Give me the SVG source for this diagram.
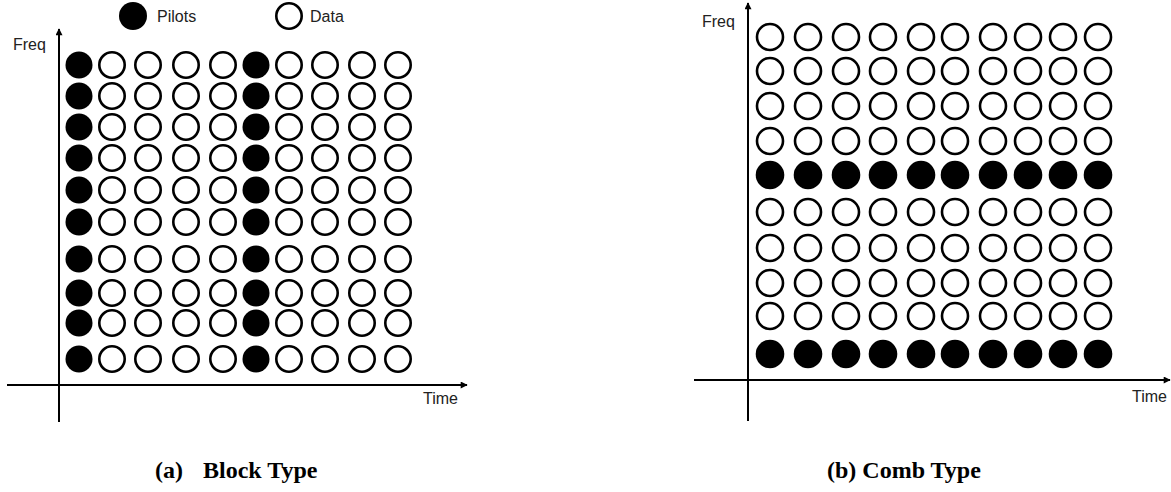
<svg xmlns="http://www.w3.org/2000/svg" width="1171" height="492" viewBox="0 0 1171 492">
<style>
.p{fill:#000}
.d{fill:#fff;stroke:#000;stroke-width:2.6}
.ax{stroke:#000;stroke-width:2;fill:none}
.lbl{font-family:"Liberation Sans",Arial,sans-serif;font-size:16px;fill:#222}
.cap{font-family:"Liberation Serif","Times New Roman",serif;font-size:24px;font-weight:bold;fill:#000}
</style>
<defs>
<marker id="arr" viewBox="0 0 10 10" refX="9" refY="5" markerWidth="9" markerHeight="7" markerUnits="userSpaceOnUse" orient="auto">
<path d="M0,0 L10,5 L0,10 Z" fill="#000"/>
</marker>
</defs>
<rect width="1171" height="492" fill="#fff"/>
<g id="legend">
<g id="legend-pilot"><circle cx="133" cy="16" r="14" class="p"/><text x="157" y="22" class="lbl">Pilots</text></g>
<g id="legend-data"><circle cx="289" cy="16" r="12.7" class="d"/><text x="310" y="22" class="lbl">Data</text></g>
</g>
<g id="connectors">
<line x1="59" y1="422" x2="59" y2="29" class="ax" marker-end="url(#arr)"/>
<line x1="7" y1="385" x2="467" y2="385" class="ax" marker-end="url(#arr)"/>
<line x1="748" y1="421" x2="748" y2="3" class="ax" marker-end="url(#arr)"/>
<line x1="694" y1="380" x2="1170" y2="380" class="ax" marker-end="url(#arr)"/>
</g>
<g id="axis-labels">
<text x="13" y="50" class="lbl">Freq</text>
<text x="423" y="404" class="lbl">Time</text>
<text x="702" y="27" class="lbl">Freq</text>
<text x="1132" y="402" class="lbl">Time</text>
</g>
<g id="block-grid">
<g id="block-row1"><circle cx="79" cy="65" r="13.5" class="p"/><circle cx="112" cy="65" r="12.7" class="d"/><circle cx="148" cy="65" r="12.7" class="d"/><circle cx="186" cy="65" r="12.7" class="d"/><circle cx="223" cy="65" r="12.7" class="d"/><circle cx="256" cy="65" r="13.5" class="p"/><circle cx="289" cy="65" r="12.7" class="d"/><circle cx="325" cy="65" r="12.7" class="d"/><circle cx="362" cy="65" r="12.7" class="d"/><circle cx="398" cy="65" r="12.7" class="d"/></g>
<g id="block-row2"><circle cx="79" cy="96" r="13.5" class="p"/><circle cx="112" cy="96" r="12.7" class="d"/><circle cx="148" cy="96" r="12.7" class="d"/><circle cx="186" cy="96" r="12.7" class="d"/><circle cx="223" cy="96" r="12.7" class="d"/><circle cx="256" cy="96" r="13.5" class="p"/><circle cx="289" cy="96" r="12.7" class="d"/><circle cx="325" cy="96" r="12.7" class="d"/><circle cx="362" cy="96" r="12.7" class="d"/><circle cx="398" cy="96" r="12.7" class="d"/></g>
<g id="block-row3"><circle cx="79" cy="127" r="13.5" class="p"/><circle cx="112" cy="127" r="12.7" class="d"/><circle cx="148" cy="127" r="12.7" class="d"/><circle cx="186" cy="127" r="12.7" class="d"/><circle cx="223" cy="127" r="12.7" class="d"/><circle cx="256" cy="127" r="13.5" class="p"/><circle cx="289" cy="127" r="12.7" class="d"/><circle cx="325" cy="127" r="12.7" class="d"/><circle cx="362" cy="127" r="12.7" class="d"/><circle cx="398" cy="127" r="12.7" class="d"/></g>
<g id="block-row4"><circle cx="79" cy="158" r="13.5" class="p"/><circle cx="112" cy="158" r="12.7" class="d"/><circle cx="148" cy="158" r="12.7" class="d"/><circle cx="186" cy="158" r="12.7" class="d"/><circle cx="223" cy="158" r="12.7" class="d"/><circle cx="256" cy="158" r="13.5" class="p"/><circle cx="289" cy="158" r="12.7" class="d"/><circle cx="325" cy="158" r="12.7" class="d"/><circle cx="362" cy="158" r="12.7" class="d"/><circle cx="398" cy="158" r="12.7" class="d"/></g>
<g id="block-row5"><circle cx="79" cy="190" r="13.5" class="p"/><circle cx="112" cy="190" r="12.7" class="d"/><circle cx="148" cy="190" r="12.7" class="d"/><circle cx="186" cy="190" r="12.7" class="d"/><circle cx="223" cy="190" r="12.7" class="d"/><circle cx="256" cy="190" r="13.5" class="p"/><circle cx="289" cy="190" r="12.7" class="d"/><circle cx="325" cy="190" r="12.7" class="d"/><circle cx="362" cy="190" r="12.7" class="d"/><circle cx="398" cy="190" r="12.7" class="d"/></g>
<g id="block-row6"><circle cx="79" cy="222" r="13.5" class="p"/><circle cx="112" cy="222" r="12.7" class="d"/><circle cx="148" cy="222" r="12.7" class="d"/><circle cx="186" cy="222" r="12.7" class="d"/><circle cx="223" cy="222" r="12.7" class="d"/><circle cx="256" cy="222" r="13.5" class="p"/><circle cx="289" cy="222" r="12.7" class="d"/><circle cx="325" cy="222" r="12.7" class="d"/><circle cx="362" cy="222" r="12.7" class="d"/><circle cx="398" cy="222" r="12.7" class="d"/></g>
<g id="block-row7"><circle cx="79" cy="259" r="13.5" class="p"/><circle cx="112" cy="259" r="12.7" class="d"/><circle cx="148" cy="259" r="12.7" class="d"/><circle cx="186" cy="259" r="12.7" class="d"/><circle cx="223" cy="259" r="12.7" class="d"/><circle cx="256" cy="259" r="13.5" class="p"/><circle cx="289" cy="259" r="12.7" class="d"/><circle cx="325" cy="259" r="12.7" class="d"/><circle cx="362" cy="259" r="12.7" class="d"/><circle cx="398" cy="259" r="12.7" class="d"/></g>
<g id="block-row8"><circle cx="79" cy="293" r="13.5" class="p"/><circle cx="112" cy="293" r="12.7" class="d"/><circle cx="148" cy="293" r="12.7" class="d"/><circle cx="186" cy="293" r="12.7" class="d"/><circle cx="223" cy="293" r="12.7" class="d"/><circle cx="256" cy="293" r="13.5" class="p"/><circle cx="289" cy="293" r="12.7" class="d"/><circle cx="325" cy="293" r="12.7" class="d"/><circle cx="362" cy="293" r="12.7" class="d"/><circle cx="398" cy="293" r="12.7" class="d"/></g>
<g id="block-row9"><circle cx="79" cy="323" r="13.5" class="p"/><circle cx="112" cy="323" r="12.7" class="d"/><circle cx="148" cy="323" r="12.7" class="d"/><circle cx="186" cy="323" r="12.7" class="d"/><circle cx="223" cy="323" r="12.7" class="d"/><circle cx="256" cy="323" r="13.5" class="p"/><circle cx="289" cy="323" r="12.7" class="d"/><circle cx="325" cy="323" r="12.7" class="d"/><circle cx="362" cy="323" r="12.7" class="d"/><circle cx="398" cy="323" r="12.7" class="d"/></g>
<g id="block-row10"><circle cx="79" cy="359" r="13.5" class="p"/><circle cx="112" cy="359" r="12.7" class="d"/><circle cx="148" cy="359" r="12.7" class="d"/><circle cx="186" cy="359" r="12.7" class="d"/><circle cx="223" cy="359" r="12.7" class="d"/><circle cx="256" cy="359" r="13.5" class="p"/><circle cx="289" cy="359" r="12.7" class="d"/><circle cx="325" cy="359" r="12.7" class="d"/><circle cx="362" cy="359" r="12.7" class="d"/><circle cx="398" cy="359" r="12.7" class="d"/></g>
</g>
<g id="comb-grid">
<g id="comb-row1"><circle cx="770" cy="37" r="13" class="d"/><circle cx="808" cy="37" r="13" class="d"/><circle cx="846" cy="37" r="13" class="d"/><circle cx="883" cy="37" r="13" class="d"/><circle cx="921" cy="37" r="13" class="d"/><circle cx="955" cy="37" r="13" class="d"/><circle cx="993" cy="37" r="13" class="d"/><circle cx="1028" cy="37" r="13" class="d"/><circle cx="1063" cy="37" r="13" class="d"/><circle cx="1098" cy="37" r="13" class="d"/></g>
<g id="comb-row2"><circle cx="770" cy="71" r="13" class="d"/><circle cx="808" cy="71" r="13" class="d"/><circle cx="846" cy="71" r="13" class="d"/><circle cx="883" cy="71" r="13" class="d"/><circle cx="921" cy="71" r="13" class="d"/><circle cx="955" cy="71" r="13" class="d"/><circle cx="993" cy="71" r="13" class="d"/><circle cx="1028" cy="71" r="13" class="d"/><circle cx="1063" cy="71" r="13" class="d"/><circle cx="1098" cy="71" r="13" class="d"/></g>
<g id="comb-row3"><circle cx="770" cy="106" r="13" class="d"/><circle cx="808" cy="106" r="13" class="d"/><circle cx="846" cy="106" r="13" class="d"/><circle cx="883" cy="106" r="13" class="d"/><circle cx="921" cy="106" r="13" class="d"/><circle cx="955" cy="106" r="13" class="d"/><circle cx="993" cy="106" r="13" class="d"/><circle cx="1028" cy="106" r="13" class="d"/><circle cx="1063" cy="106" r="13" class="d"/><circle cx="1098" cy="106" r="13" class="d"/></g>
<g id="comb-row4"><circle cx="770" cy="141" r="13" class="d"/><circle cx="808" cy="141" r="13" class="d"/><circle cx="846" cy="141" r="13" class="d"/><circle cx="883" cy="141" r="13" class="d"/><circle cx="921" cy="141" r="13" class="d"/><circle cx="955" cy="141" r="13" class="d"/><circle cx="993" cy="141" r="13" class="d"/><circle cx="1028" cy="141" r="13" class="d"/><circle cx="1063" cy="141" r="13" class="d"/><circle cx="1098" cy="141" r="13" class="d"/></g>
<g id="comb-row5"><circle cx="770" cy="175" r="14.3" class="p"/><circle cx="808" cy="175" r="14.3" class="p"/><circle cx="846" cy="175" r="14.3" class="p"/><circle cx="883" cy="175" r="14.3" class="p"/><circle cx="921" cy="175" r="14.3" class="p"/><circle cx="955" cy="175" r="14.3" class="p"/><circle cx="993" cy="175" r="14.3" class="p"/><circle cx="1028" cy="175" r="14.3" class="p"/><circle cx="1063" cy="175" r="14.3" class="p"/><circle cx="1098" cy="175" r="14.3" class="p"/></g>
<g id="comb-row6"><circle cx="770" cy="212" r="13" class="d"/><circle cx="808" cy="212" r="13" class="d"/><circle cx="846" cy="212" r="13" class="d"/><circle cx="883" cy="212" r="13" class="d"/><circle cx="921" cy="212" r="13" class="d"/><circle cx="955" cy="212" r="13" class="d"/><circle cx="993" cy="212" r="13" class="d"/><circle cx="1028" cy="212" r="13" class="d"/><circle cx="1063" cy="212" r="13" class="d"/><circle cx="1098" cy="212" r="13" class="d"/></g>
<g id="comb-row7"><circle cx="770" cy="248" r="13" class="d"/><circle cx="808" cy="248" r="13" class="d"/><circle cx="846" cy="248" r="13" class="d"/><circle cx="883" cy="248" r="13" class="d"/><circle cx="921" cy="248" r="13" class="d"/><circle cx="955" cy="248" r="13" class="d"/><circle cx="993" cy="248" r="13" class="d"/><circle cx="1028" cy="248" r="13" class="d"/><circle cx="1063" cy="248" r="13" class="d"/><circle cx="1098" cy="248" r="13" class="d"/></g>
<g id="comb-row8"><circle cx="770" cy="283" r="13" class="d"/><circle cx="808" cy="283" r="13" class="d"/><circle cx="846" cy="283" r="13" class="d"/><circle cx="883" cy="283" r="13" class="d"/><circle cx="921" cy="283" r="13" class="d"/><circle cx="955" cy="283" r="13" class="d"/><circle cx="993" cy="283" r="13" class="d"/><circle cx="1028" cy="283" r="13" class="d"/><circle cx="1063" cy="283" r="13" class="d"/><circle cx="1098" cy="283" r="13" class="d"/></g>
<g id="comb-row9"><circle cx="770" cy="316" r="13" class="d"/><circle cx="808" cy="316" r="13" class="d"/><circle cx="846" cy="316" r="13" class="d"/><circle cx="883" cy="316" r="13" class="d"/><circle cx="921" cy="316" r="13" class="d"/><circle cx="955" cy="316" r="13" class="d"/><circle cx="993" cy="316" r="13" class="d"/><circle cx="1028" cy="316" r="13" class="d"/><circle cx="1063" cy="316" r="13" class="d"/><circle cx="1098" cy="316" r="13" class="d"/></g>
<g id="comb-row10"><circle cx="770" cy="354" r="14.3" class="p"/><circle cx="808" cy="354" r="14.3" class="p"/><circle cx="846" cy="354" r="14.3" class="p"/><circle cx="883" cy="354" r="14.3" class="p"/><circle cx="921" cy="354" r="14.3" class="p"/><circle cx="955" cy="354" r="14.3" class="p"/><circle cx="993" cy="354" r="14.3" class="p"/><circle cx="1028" cy="354" r="14.3" class="p"/><circle cx="1063" cy="354" r="14.3" class="p"/><circle cx="1098" cy="354" r="14.3" class="p"/></g>
</g>
<g id="captions">
<text y="478" class="cap"><tspan x="155">(a)</tspan><tspan x="203">Block Type</tspan></text>
<text x="827" y="478" class="cap">(b) Comb Type</text>
</g>
</svg>
